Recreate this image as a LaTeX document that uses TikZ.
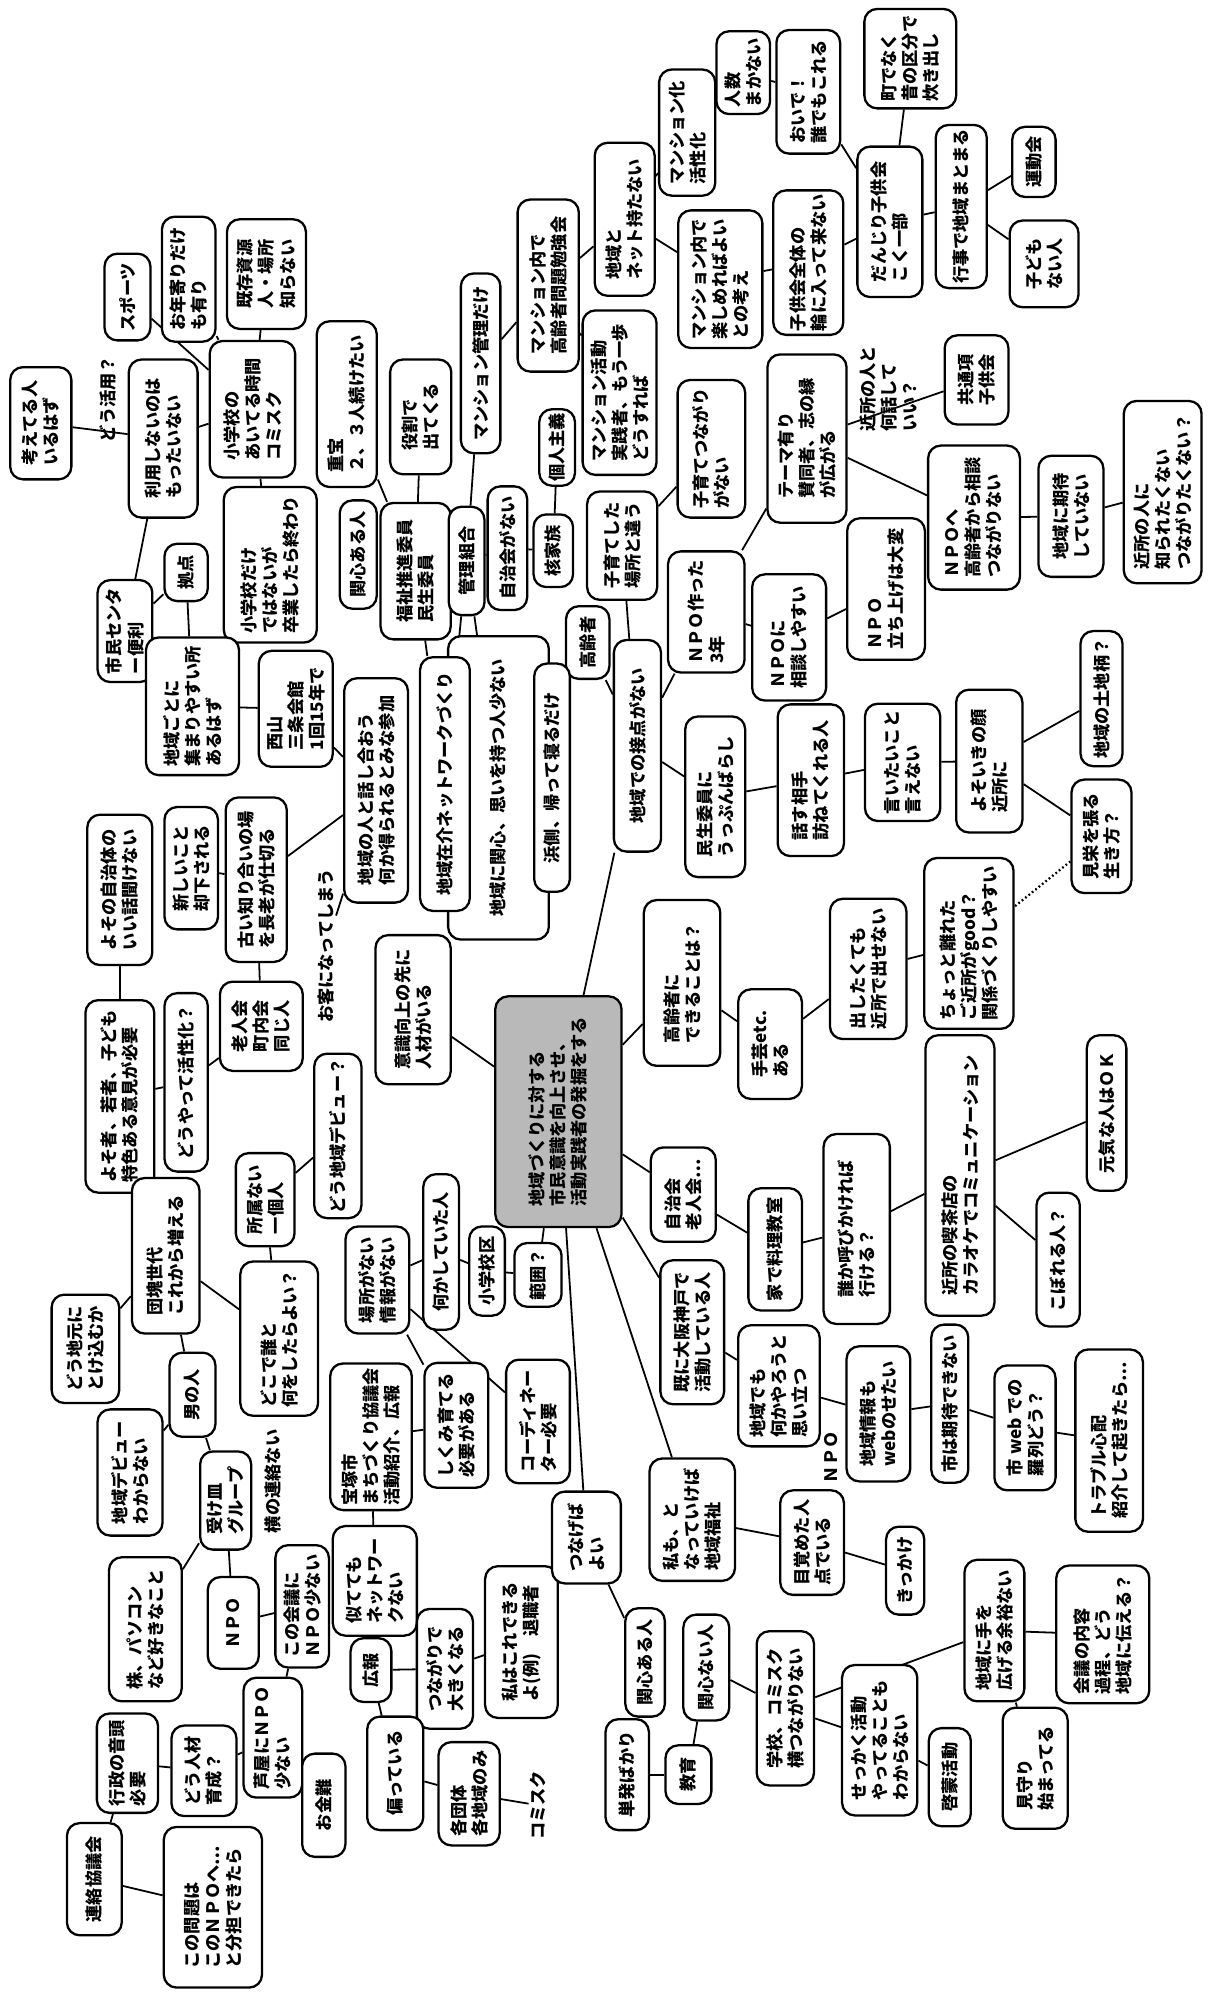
\documentclass[tikz,border=0pt]{standalone}
\usepackage{fontspec}
\setmainfont{Noto Sans CJK JP}
\usetikzlibrary{backgrounds}
\tikzset{
  bx/.style={draw, line width=1.8pt, rounded corners=10pt, fill=white, rotate=90, align=left,
    inner sep=3pt, font=\fontsize{13.5}{16.5}\selectfont\bfseries},
  lb/.style={rotate=90, align=left, inner sep=1pt, font=\fontsize{13.5}{16.5}\selectfont\bfseries},
  ln/.style={line width=1.4pt},
  sz/.style 2 args={minimum height=#1, minimum width=#2},
}
\newcommand\nb[6]{\node[bx,sz={#4}{#5}] (#1) at (#2,#3) {#6};}
\begin{document}
\begin{tikzpicture}[x=1pt,y=-1pt]
\useasboundingbox (0,0) rectangle (947,1568);
% top-left cluster
\nb{kangae}{32}{332}{48}{88}{考えてる人\\いるはず}
\node[lb] (katsuyo) at (85,313) {どう活用？};
\nb{riyou}{128}{344}{54}{124}{利用しないのは\\もったいない}
\nb{sports}{100}{233}{36}{68}{スポーツ}
\nb{otoshiyori}{148}{219}{42}{98}{お年寄りだけ\\も有り}
\nb{kizon}{209}{215}{62}{86}{既存資源\\人・場所\\知らない}
\nb{shogakko}{198}{321}{67}{107}{小学校の\\あいてる時間\\コミスク}
\nb{chohou}{272}{317}{47}{130}{重宝\\２、３人続けたい}
\nb{yakuwari}{330}{327}{48}{90}{役割で\\出てくる}
\nb{mkanri}{377}{285}{31}{141}{マンション管理だけ}
\nb{mnai}{430}{224}{48}{135}{マンション内で\\高齢者問題勉強会}
\nb{kojin}{437}{351}{28}{55}{個人主義}
\nb{mkatsudo}{486}{308}{58}{129}{マンション活動\\実践者、もう一歩\\どうすれば}
% top-right cluster
\nb{machi}{714}{46}{72}{78}{町でなく\\昔の区分で\\炊き出し}
\nb{ninzu}{583}{57}{42}{65}{人数\\まかない}
\nb{oide}{634}{72}{50}{97}{おいで！\\誰でもこれる}
\nb{mka}{539}{104}{44}{99}{マンション化\\活性化}
\nb{chiikito}{490}{172}{47}{120}{地域と\\ネット持たない}
\nb{mtano}{565}{219}{66}{108}{マンション内で\\楽しめればよい\\との考え}
\nb{kodomokai}{634}{206}{55}{113}{子供会全体の\\輪に入って来ない}
\nb{danjiri}{698}{174}{51}{118}{だんじり子供会\\こく一部}
\nb{gyoji}{754}{162}{40}{128}{行事で地域まとまる}
\nb{undokai}{811}{127}{34}{55}{運動会}
\nb{kodomonai}{819}{207}{54}{68}{子ども\\ない人}
\nb{kosodatetsu}{558}{352}{53}{108}{子育てつながり\\がない}
\nb{theme}{633}{344}{62}{132}{テーマ有り\\賛同者、志の縁\\が広がる}
\node[lb] (kinjo) at (697,305) {近所の人と\\何話して\\いい？};
\nb{kyotsu}{766}{298}{50}{70}{共通項\\子供会}
\nb{npohe}{764}{406}{72}{113}{ＮＰＯへ\\高齢者から相談\\つながりない}
\nb{kitai}{840}{405}{51}{95}{地域に期待\\していない}
\nb{kinjoni}{912}{386}{61}{143}{近所の人に\\知られたくない\\つながりたくない？}
% middle
\nb{shimin}{98}{495}{43}{80}{市民センタ\\ー便利}
\nb{kyoten}{146}{449}{34}{45}{拠点}
\nb{shodake}{212}{443}{73}{122}{小学校だけ\\ではないが\\卒業したら終わり}
\nb{chiikigoto}{151}{554}{73}{108}{地域ごとに\\集まりやすい所\\あるはず}
\nb{nishiyama}{232}{556}{58}{91}{西山\\三条会館\\1回15年で}
\nb{chiikihito}{295}{620}{50}{176}{地域の人と話し合おう\\何か得られるとみな参加}
\nb{kanshin}{281}{435}{29}{85}{関心ある人}
\nb{fukushi}{326}{448}{55}{107}{福祉推進委員\\民生委員}
\nb{kanri}{366}{440}{28}{85}{管理組合}
\nb{jichinai}{398}{430}{31}{97}{自治会がない}
\nb{kaku}{434}{432}{31}{57}{核家族}
\nb{kosodate}{488}{428}{55}{85}{子育てした\\場所と違う}
\nb{koreisha}{461}{504}{34}{57}{高齢者}
\node[bx,sz={79}{238},align=center] (outer) at (391,618) {地域に関心、思いを持つ人少ない};
\nb{zaikai}{349}{615}{39}{199}{地域在介ネットワークづくり}
\nb{hama}{433}{610}{28}{179}{浜側、帰って寝るだけ}
\nb{sesshiten}{500}{585}{37}{166}{地域での接点がない}
\nb{npo3}{554}{480}{60}{95}{ＮＰＯ作った\\3年}
\nb{npososo}{619}{500}{58}{99}{ＮＰＯに\\相談しやすい}
\nb{npotachi}{695}{462}{61}{111}{ＮＰＯ\\立ち上げは大変}
\nb{minsei}{561}{625}{47}{126}{民生委員に\\うっぷんばらし}
\nb{hanasu}{636}{612}{52}{119}{話す相手\\訪ねてくれる人}
\nb{iitai}{708}{598}{59}{92}{言いたいこと\\言えない}
\nb{yosoiki}{776}{597}{52}{112}{よそいきの顔\\近所に}
\nb{tochigara}{864}{548}{33}{106}{地域の土地柄？}
\nb{mie}{864}{656}{47}{89}{見栄を張る\\生き方？}
\nb{chotto}{760}{740}{70}{134}{ちょっと離れた\\ご近所がgood？\\関係づくりしやすい}
\nb{dashitai}{681}{760}{60}{110}{出したくても\\近所で出せない}
\nb{koreini}{535}{771}{60}{130}{高齢者に\\できることは？}
\nb{shugei}{604}{819}{50}{86}{手芸etc.\\ある}
% left-middle
\nb{furui}{201}{690}{48}{129}{古い知り合いの場\\を長老が仕切る}
\nb{atarashii}{150}{681}{42}{96}{新しいこと\\却下される}
\nb{yosono}{94}{698}{51}{118}{よその自治体の\\いい話聞けない}
\nb{rojinkai}{205}{805}{65}{70}{老人会\\町内会\\同じ人}
\node[lb] (okyaku) at (256,742) {お客になってしまう};
\nb{ishiki}{324}{792}{59}{117}{意識向上の先に\\人材がいる}
\node[bx,fill=gray!55,sz={99}{181}] (ctr) at (438,872) {地域づくりに対する\\市民意識を向上させ、\\活動実践者の発掘をする};
\nb{yosomono}{94}{860}{54}{151}{よそ者、若者、子ども\\特色ある意見が必要}
\nb{douyatte}{146}{849}{34}{140}{どうやって活性化？}
\nb{dankai}{130}{985}{53}{122}{団塊世代\\これから増える}
\nb{jimoto}{67}{1058}{53}{85}{どう地元に\\とけ込むか}
\nb{shozoku}{208}{941}{46}{73}{所属ない\\一個人}
\nb{debut}{265}{891}{37}{129}{どう地域デビュー？}
\nb{dokode}{219}{1050}{61}{121}{どこで誰と\\何をしたらよい？}
\nb{otoko}{151}{1094}{36}{66}{男の人}
\nb{debut2}{102}{1155}{51}{99}{地域デビュー\\わからない}
\nb{ukezara}{177}{1177}{40}{77}{受け皿\\グループ}
\node[lb] (yoko) at (214,1162) {横の連絡ない};
\nb{takara}{291}{1127}{64}{115}{宝塚市\\まちづくり協議会\\活動紹介、広報}
\nb{shikumi}{358}{1118}{50}{98}{しくみ育てる\\必要がある}
\nb{coord}{422}{1115}{50}{97}{コーディネー\\ター必要}
\nb{basho}{296}{1004}{50}{84}{場所がない\\情報がない}
\nb{nanika}{346}{982}{28}{122}{何かしていた人}
\nb{shogakku}{382}{997}{28}{70}{小学校区}
\nb{hani}{422}{1000}{37}{50}{範囲？}
% right-middle
\nb{jichikai}{536}{937}{51}{74}{自治会\\老人会…}
\nb{ryori}{608}{980}{42}{96}{家で料理教室}
\nb{dareka}{672}{964}{52}{149}{誰か呼びかければ\\行ける？}
\nb{kissa}{753}{922}{54}{220}{近所の喫茶店の\\カラオケでコミュニケーション}
\nb{genki}{868}{873}{31}{122}{元気な人はＯＫ}
\nb{koboreru}{830}{988}{34}{105}{こぼれる人？}
\nb{sudeni}{543}{1045}{50}{113}{既に大阪神戸で\\活動している人}
\nb{chiikidemo}{611}{1087}{64}{95}{地域でも\\何かやろうと\\思い立つ}
\node[lb] (npolb) at (652,1143) {ＮＰＯ};
\nb{chiikijoho}{689}{1109}{50}{106}{地域情報も\\webのせたい}
\nb{shiwa}{745}{1101}{29}{124}{市は期待できない}
\nb{shiweb}{804}{1120}{48}{98}{市 web での\\羅列どう？}
\nb{trouble}{870}{1130}{53}{143}{トラブル心配\\紹介して起きたら…}
\nb{watashimo}{543}{1192}{67}{96}{私も、と\\なっていけば\\地域福祉}
\nb{mezameta}{637}{1210}{50}{82}{目覚めた人\\点でいる}
\nb{kikkake}{710}{1232}{30}{69}{きっかけ}
% bottom-left
\nb{kabu}{114}{1278}{57}{113}{株、パソコン\\など好きなこと}
\nb{npo}{183}{1273}{40}{72}{ＮＰＯ}
\nb{kaigi}{237}{1260}{42}{96}{この会議に\\ＮＰＯ少ない}
\nb{ashiya}{214}{1363}{46}{94}{芦屋にＮＰＯ\\少ない}
\nb{jinzai}{160}{1389}{51}{71}{どう人材\\育成？}
\nb{gyosei}{100}{1383}{48}{78}{行政の音頭\\必要}
\nb{renraku}{74}{1474}{43}{88}{連絡協議会}
\nb{mondai}{167}{1496}{77}{126}{この問題は\\このＮＰＯへ…\\と分担できたら}
\nb{okane}{254}{1416}{34}{81}{お金難}
\nb{nitete}{294}{1240}{66}{86}{似てても\\ネットワー\\クない}
\nb{koho}{291}{1310}{32}{50}{広報}
\nb{tsunagari}{349}{1309}{44}{94}{つながりで\\大きくなる}
\nb{watashiwa}{409}{1288}{57}{119}{私はこれできる\\よ(例)　退職者}
\nb{katayori}{310}{1391}{44}{89}{偏っている}
\nb{kakudantai}{368}{1407}{48}{81}{各団体\\各地域のみ}
\node[lb] (komisuku) at (422,1416) {コミスク};
\nb{tsunageba}{460}{1206}{54}{72}{つなげば\\よい}
% bottom-right
\nb{kanshin2}{506}{1304}{31}{85}{関心ある人}
\nb{kanshinnai}{554}{1308}{36}{83}{関心ない人}
\nb{tanpatsu}{492}{1392}{34}{87}{単発ばかり}
\nb{kyoiku}{540}{1392}{36}{46}{教育}
\nb{gakko}{616}{1340}{45}{121}{学校、コミスク\\横つながりない}
\nb{sekkaku}{690}{1365}{59}{118}{せっかく活動\\やってることも\\わからない}
\nb{keimo}{745}{1394}{33}{77}{啓蒙活動}
\nb{teo}{780}{1279}{47}{111}{地域に手を\\広げる余裕ない}
\nb{kaigi2}{865}{1282}{73}{108}{会議の内容\\過程、どう\\地域に伝える？}
\nb{mimamori}{812}{1387}{51}{95}{見守り\\始まってる}
% connectors
\begin{scope}[on background layer]
\fill[white] (0,0) rectangle (947,1568);
\foreach \a/\b in {kangae/riyou, riyou/shogakko, sports/shogakko, otoshiyori/shogakko, kizon/shogakko,
  shogakko/shodake, riyou/shimin, shimin/kyoten, kyoten/chiikigoto, chiikigoto/nishiyama,
  nishiyama/chiikihito, chiikihito/furui, chiikihito/okyaku, furui/atarashii, furui/rojinkai,
  yosono/yosomono, yosomono/douyatte, douyatte/rojinkai, yosomono/dankai, dankai/jimoto,
  dankai/dokode, dankai/otoko, dokode/shozoku, shozoku/debut, otoko/debut2, otoko/ukezara,
  ukezara/kabu, ukezara/npo, npo/kaigi, kaigi/ashiya, ashiya/jinzai, ashiya/okane,
  jinzai/gyosei, gyosei/renraku, renraku/mondai,
  chohou/fukushi, yakuwari/fukushi, mkanri/kanri, mkanri/mnai, mnai/chiikito, mnai/mkatsudo,
  kojin/kaku, kaku/jichinai, kanri/jichinai, fukushi/zaikai, kanri/zaikai, kanri/outer,
  chiikito/mka, chiikito/mtano, mtano/kodomokai, kodomokai/danjiri, danjiri/oide, oide/ninzu,
  danjiri/machi, danjiri/gyoji, gyoji/undokai, gyoji/kodomonai,
  kosodate/kosodatetsu, kosodate/sesshiten, koreisha/sesshiten, sesshiten/npo3, npo3/theme,
  npo3/npososo, npososo/npotachi, theme/kyotsu, theme/npohe, npohe/kitai, kitai/kinjoni,
  sesshiten/minsei, minsei/hanasu, hanasu/iitai, iitai/yosoiki, yosoiki/tochigara, yosoiki/mie,
  dashitai/chotto, shugei/dashitai, koreini/shugei, ctr/koreini, ctr/sesshiten, ctr/ishiki,
  ctr/hani, hani/shogakku, shogakku/nanika, nanika/basho, basho/shikumi, basho/coord,
  shikumi/takara, takara/nitete, nitete/koho, koho/tsunagari, tsunagari/watashiwa,
  watashiwa/tsunageba, koho/katayori, katayori/kakudantai, kakudantai/komisuku,
  ctr/tsunageba, tsunageba/kanshin2, kanshinnai/kyoiku, kyoiku/tanpatsu, kanshinnai/gakko,
  gakko/sekkaku, sekkaku/keimo, gakko/teo, teo/kaigi2, teo/mimamori,
  ctr/jichikai, jichikai/ryori, ryori/dareka, dareka/kissa, kissa/genki, kissa/koboreru,
  ctr/sudeni, sudeni/chiikidemo, chiikidemo/chiikijoho, chiikijoho/shiwa, shiwa/shiweb,
  shiweb/trouble, ctr/watashimo, watashimo/mezameta, mezameta/kikkake}
  {\draw[ln] (\a) -- (\b);}
\draw[ln, dotted, line width=1.8pt] (mie) -- (chotto);
\end{scope}
\end{tikzpicture}
\end{document}
